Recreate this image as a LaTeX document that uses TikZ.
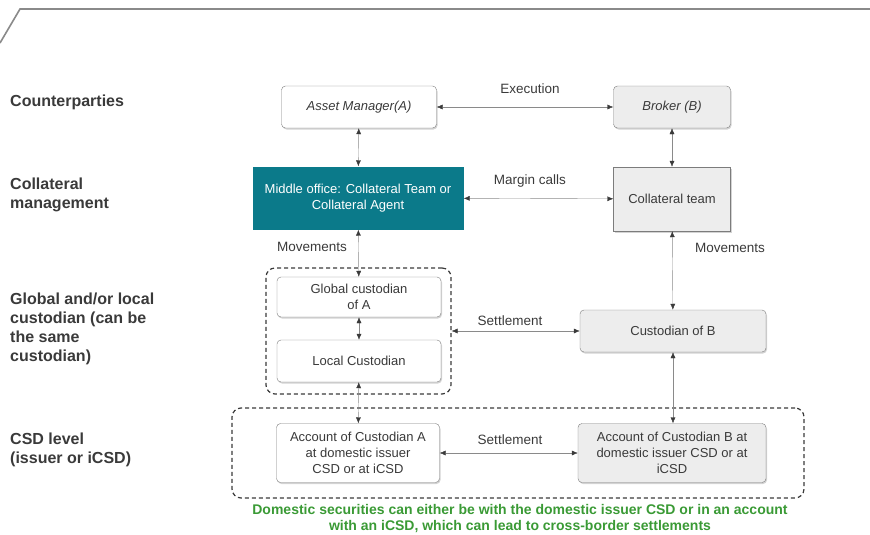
\documentclass[tikz,border=0pt]{standalone}
\usepackage{fontspec}
\setmainfont{Liberation Sans}
\usetikzlibrary{positioning, arrows.meta, shadows}

\definecolor{teal1}{HTML}{0B7A8A}
\definecolor{boxgray}{HTML}{EDEDED}
\definecolor{linegray}{HTML}{8A8A8A}
\definecolor{txtgray}{HTML}{3A3A3A}
\definecolor{notegreen}{HTML}{3A9A35}

\tikzset{
    box/.style={draw=linegray!90!black, rounded corners=4pt, fill=white, align=center,
        text=txtgray, font=\fontsize{13}{16}\selectfont, inner sep=1pt,
        drop shadow={shadow xshift=1pt, shadow yshift=-1.5pt, opacity=0.35}},
    graybox/.style={box, fill=boxgray},
    grp/.style={draw=txtgray, line width=1.2pt, dash pattern=on 4pt off 3pt, rounded corners=9pt},
    arr/.style={linegray, {Latex[length=6pt,width=5pt,color=txtgray]}-{Latex[length=6pt,width=5pt,color=txtgray]}},
    lbl/.style={text=txtgray, font=\fontsize{13.5}{16}\selectfont},
    level/.style={text=txtgray, font=\bfseries\fontsize{16}{19}\selectfont, align=left, anchor=north west, inner sep=0pt},
}

\begin{document}
\begin{tikzpicture}[x=1pt, y=-1pt]
    \useasboundingbox (0,0) rectangle (870,535);

    % frame line
    \draw[linegray, line width=1.6pt] (0,43) -- (20,9) -- (870,9);

    % level labels
    \node[level] (lvl1) at (10,95) {Counterparties};
    \node[level] (lvl2) at (10,178) {Collateral\\management};
    \node[level] (lvl3) at (10,293) {Global and/or local\\custodian (can be\\the same\\custodian)};
    \node[level] (lvl4) at (10,433) {CSD level\\(issuer or iCSD)};

    % counterparties
    \node[box, minimum width=155, minimum height=42] (am) at (359,107) {\itshape Asset Manager(A)};
    \node[graybox, minimum width=117, minimum height=42] (br) at (672,107) {\itshape Broker (B)};

    % collateral management
    \node[fill=teal1, text=white, align=center, font=\fontsize{13}{16}\selectfont, inner sep=1pt,
          minimum width=211, minimum height=63] (mo) at (358,198)
          {Middle office: Collateral Team or\\Collateral Agent};
    \node[graybox, rounded corners=0pt, minimum width=117, minimum height=64] (ct) at (672,199) {Collateral team};

    % custodians
    \node[grp, minimum width=185, minimum height=126] (grpA) at (358.5,331) {};
    \node[box, minimum width=164, minimum height=40] (gc) at (359,297) {Global custodian\\of A};
    \node[box, minimum width=164, minimum height=42] (lc) at (359,361) {Local Custodian};
    \node[graybox, minimum width=186, minimum height=42] (cb) at (673,331) {Custodian of B};

    % CSD level
    \node[grp, minimum width=572, minimum height=90] (grpCSD) at (518,453) {};
    \node[box, minimum width=163, minimum height=59] (aa) at (358,453)
          {Account of Custodian A\\at domestic issuer\\CSD or at iCSD};
    \node[graybox, minimum width=188, minimum height=59] (ab) at (672,453)
          {Account of Custodian B at\\domestic issuer CSD or at\\iCSD};

    % connectors
    \draw[arr] (am) -- (br);
    \draw[arr] (am) -- (mo);
    \draw[arr] (br) -- (ct);
    \draw[arr] (mo) -- (ct);
    \draw[arr] (mo) -- (gc);
    \draw[arr] (gc) -- (lc);
    \draw[arr] (ct) -- (cb);
    \draw[arr] (grpA) -- (cb);
    \draw[arr] (lc) -- (aa);
    \draw[arr] (cb.south) -- (ab.north -| cb.south);
    \draw[arr] (aa) -- (ab);

    % connector labels
    \node[lbl] (exe) at (530,89) {Execution};
    \node[lbl] (mc) at (530,181) {Margin calls};
    \node[lbl] (mvA) at (312,247) {Movements};
    \node[lbl] (mvB) at (730,248) {Movements};
    \node[lbl] (stl1) at (510,321) {Settlement};
    \node[lbl] (stl2) at (510,440) {Settlement};

    % note
    \node[text=notegreen, font=\bfseries\fontsize{14}{16}\selectfont, align=center] (note) at (520,519)
          {Domestic securities can either be with the domestic issuer CSD or in an account\\with an iCSD, which can lead to cross-border settlements};
\end{tikzpicture}
\end{document}
